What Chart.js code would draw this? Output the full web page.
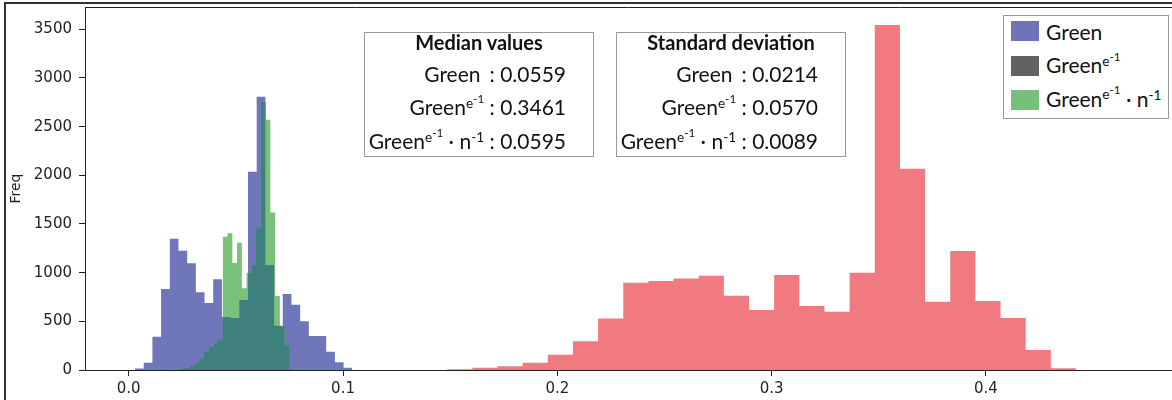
<!DOCTYPE html>
<html>
<head>
<meta charset="utf-8">
<title>Freq</title>
<script src="https://cdn.jsdelivr.net/npm/chart.js@4.4.0/dist/chart.umd.min.js"></script>
<style>
  body { margin: 0; background: #fff; overflow: hidden; }
  #wrap { position: relative; width: 1172px; height: 400px; overflow: hidden; }
  #histChart { position: absolute; left: 0; top: 0; }
  .box { position: absolute; border: 1.5px solid #999; background: #fff; font-family: Lato, sans-serif; color: #111; box-sizing: border-box; }
  .box .title { position: absolute; left: 0; right: 0; top: -2px; text-align: center; font-weight: bold; font-size: 20px; line-height: 23px; }
  .box .row { position: absolute; right: 27px; font-size: 21px; line-height: 24px; white-space: nowrap; }
  .box .row .lbl1 { padding-right: 9px; }
  sup { font-size: 0.65em; line-height: 0; vertical-align: 0.55em; }
  sup sup { font-size: 0.85em; vertical-align: 0.45em; }
  #legend .sw { position: absolute; left: 7px; width: 28px; height: 20px; }
  #legend .txt { position: absolute; left: 42px; font-size: 21px; line-height: 24px; white-space: nowrap; }
</style>
</head>
<body>
<div id="wrap">
  <canvas id="histChart" width="1172" height="400"></canvas>
  <div class="box" id="medianBox" style="left:364px; top:32px; width:230px; height:125px;"></div>
  <div class="box" id="stdBox" style="left:616px; top:32px; width:230px; height:125px;"></div>
  <div class="box" id="legend" style="left:1003px; top:15px; width:166px; height:104px;"></div>
</div>
<script>
// Histograma "Green": inicio de bins, ancho y frecuencias
const greenStart = 0.00294;
const greenWidth = 0.004055;
const greenCounts = [15, 75, 342, 832, 1349, 1226, 1096, 798, 688, 932, 545, 535, 720,
                     2037, 2808, 1079, 455, 781, 670, 500, 349, 349, 188, 80, 24];

// Histograma "Green^e-1"
const greenInvStart = 0.1486;
const greenInvWidth = 0.011736;
const greenInvCounts = [7, 22, 38, 75, 157, 295, 528, 897, 914, 940, 969, 764, 616,
                        976, 657, 599, 1000, 3544, 2068, 702, 1222, 709, 534, 205, 17];

// Histograma "Green^e-1 · n^-1"
const greenInvNStart = 0.01953;
const greenInvNWidth = 0.002217;
const greenInvNCounts = [2, 5, 12, 25, 45, 70, 120, 190, 235, 280, 310, 1370, 1404,
                         1100, 1308, 839, 1000, 1079, 1455, 2756, 2570, 1617, 760, 450, 250];

// Ticks de los ejes
const xTickValues = [0.0, 0.1, 0.2, 0.3, 0.4];
const yTickValues = [0, 500, 1000, 1500, 2000, 2500, 3000, 3500];

// Textos de los recuadros
const seriesLabels = ['Green', 'Green<sup>e<sup>-1</sup></sup>', 'Green<sup>e<sup>-1</sup></sup> · n<sup>-1</sup>'];
const medianValues = ['0.0559', '0.3461', '0.0595'];
const stdValues = ['0.0214', '0.0570', '0.0089'];
const legendColors = ['#6f74b8', '#626262', '#77c079'];

const colBlue = '#7076ba';
const colGreen = '#79c17a';
const colTeal = '#3e807e';
const colRed = '#f07a80';

// Puntos de un histograma como escalones
function histPoints(start, width, counts) {
    const pts = counts.map((c, i) => ({ x: start + i * width, y: c }));
    pts.push({ x: start + counts.length * width, y: 0 });
    return pts;
}

function countAt(start, width, counts, x) {
    const i = Math.floor((x - start) / width);
    return (i >= 0 && i < counts.length) ? counts[i] : 0;
}

// Zona donde se solapan Green y Green^e-1·n^-1
function overlapPoints() {
    const edges = [];
    for (let i = 0; i <= greenCounts.length; i++) edges.push(greenStart + i * greenWidth);
    for (let i = 0; i <= greenInvNCounts.length; i++) edges.push(greenInvNStart + i * greenInvNWidth);
    edges.sort((a, b) => a - b);
    const pts = [];
    for (let i = 0; i < edges.length - 1; i++) {
        const mid = (edges[i] + edges[i + 1]) / 2;
        pts.push({
            x: edges[i],
            y: Math.min(countAt(greenStart, greenWidth, greenCounts, mid),
                        countAt(greenInvNStart, greenInvNWidth, greenInvNCounts, mid))
        });
    }
    pts.push({ x: edges[edges.length - 1], y: 0 });
    return pts;
}

function histDataset(label, data, color, order) {
    return {
        label: label,
        data: data,
        backgroundColor: color,
        borderColor: color,
        borderWidth: 0,
        pointRadius: 0,
        fill: 'origin',
        stepped: 'before',
        order: order
    };
}

// Marco exterior y línea superior del gráfico
const plotFrame = {
    id: 'plotFrame',
    afterDraw(chart) {
        const { ctx, chartArea } = chart;
        ctx.save();
        ctx.strokeStyle = '#222';
        ctx.lineWidth = 1;
        ctx.beginPath();
        ctx.moveTo(chartArea.left, chartArea.top + 0.5);
        ctx.lineTo(chart.width, chartArea.top + 0.5);
        ctx.stroke();
        ctx.strokeStyle = '#333';
        ctx.lineWidth = 2;
        ctx.beginPath();
        ctx.moveTo(5, chart.height);
        ctx.lineTo(5, 3);
        ctx.lineTo(chart.width, 3);
        ctx.stroke();
        ctx.restore();
    }
};

const tickFont = { family: 'DejaVu Sans', size: 15 };

const ctx = document.getElementById('histChart').getContext('2d');
const histChart = new Chart(ctx, {
    type: 'line',
    data: {
        datasets: [
            histDataset('overlap', overlapPoints(), colTeal, 0),
            histDataset('Green e-1 n-1', histPoints(greenInvNStart, greenInvNWidth, greenInvNCounts), colGreen, 1),
            histDataset('Green', histPoints(greenStart, greenWidth, greenCounts), colBlue, 2),
            histDataset('Green e-1', histPoints(greenInvStart, greenInvWidth, greenInvCounts), colRed, 3)
        ]
    },
    options: {
        responsive: false,
        animation: false,
        layout: { padding: { top: 7, left: 0, right: 0, bottom: 0 } },
        plugins: {
            legend: { display: false },
            tooltip: { enabled: false }
        },
        scales: {
            x: {
                type: 'linear',
                min: -0.0204,
                max: 0.4868,
                afterBuildTicks: (scale) => { scale.ticks = xTickValues.map(v => ({ value: v })); },
                afterFit: (scale) => { scale.height = 30; scale.paddingLeft = 0; scale.paddingRight = 0; },
                ticks: {
                    font: tickFont,
                    color: '#222',
                    padding: 4,
                    maxRotation: 0,
                    callback: (v) => v.toFixed(1)
                },
                grid: { drawOnChartArea: false, drawTicks: true, tickLength: 6, color: '#222' },
                border: { color: '#222', width: 1 }
            },
            y: {
                min: 0,
                max: 3729,
                afterBuildTicks: (scale) => { scale.ticks = yTickValues.map(v => ({ value: v })); },
                afterFit: (scale) => { scale.width = 85; scale.paddingTop = 0; scale.paddingBottom = 0; },
                ticks: { font: tickFont, color: '#222', padding: 7, callback: (v) => String(v) },
                grid: { drawOnChartArea: false, drawTicks: true, tickLength: 6, color: '#222' },
                border: { color: '#222', width: 1 },
                title: {
                    display: true,
                    text: 'Freq',
                    font: { family: 'DejaVu Sans', size: 14 },
                    color: '#222',
                    padding: { top: 8, bottom: 0 }
                }
            }
        }
    },
    plugins: [plotFrame]
});

// Recuadros de mediana y desviación estándar
function fillBox(id, title, values) {
    const box = document.getElementById(id);
    let html = `<div class="title">${title}</div>`;
    const tops = [29, 62, 96];
    values.forEach((v, i) => {
        const lbl = i === 0 ? `<span class="lbl1">${seriesLabels[i]}</span>` : seriesLabels[i] + ' ';
        html += `<div class="row" style="top:${tops[i]}px">${lbl}: ${v}</div>`;
    });
    box.innerHTML = html;
}
fillBox('medianBox', 'Median values', medianValues);
fillBox('stdBox', 'Standard deviation', stdValues);

// Leyenda
const legend = document.getElementById('legend');
const swTops = [5, 39.5, 73.5];
const txtTops = [4, 37, 70.5];
legend.innerHTML = seriesLabels.map((l, i) =>
    `<div class="sw" style="top:${swTops[i]}px; background:${legendColors[i]}"></div>` +
    `<div class="txt" style="top:${txtTops[i]}px">${l}</div>`
).join('');
</script>
</body>
</html>
